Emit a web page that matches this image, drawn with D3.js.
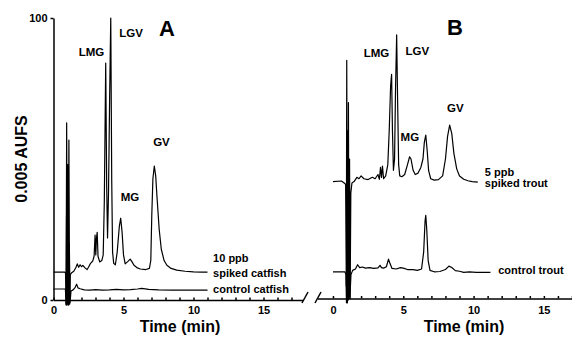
<!DOCTYPE html>
<html>
<head>
<meta charset="utf-8">
<title>Chromatograms</title>
<style>
  body { margin: 0; background: #fff; }
  svg { display: block; }
  text { font-family: "Liberation Sans", Arial, sans-serif; font-weight: bold; fill: #000; }
  .axis path, .axis line { stroke: #000; stroke-width: 1.5; }
  .axis text { font-size: 11px; }
  .trace { fill: none; stroke: #000; stroke-width: 1.2; stroke-linejoin: round; }
</style>
</head>
<body>
<svg width="572" height="337"></svg>
<script src="https://cdnjs.cloudflare.com/ajax/libs/d3/7.8.5/d3.min.js"></script>
<script>
// time (min), response (0-100 of 0.005 AUFS, traces offset)
var catfishSpiked = [
  [0,9.9],[0.8,9.9],[0.86,9.5],[0.9,-1.5],[0.94,62.8],[0.98,-1.5],[1.02,48],[1.06,-1.5],[1.1,56.7],
  [1.15,-1.5],[1.2,9],[1.3,9.7],[1.45,10.2],[1.6,11.5],[1.7,12.8],[1.8,11.6],[1.9,12.5],[2.0,11.8],
  [2.1,12.3],[2.25,11.4],[2.4,10.8],[2.5,11.6],[2.6,12.6],[2.7,13.3],[2.8,13.8],[2.9,15.5],[2.97,23],
  [3.02,16],[3.07,22],[3.12,24],[3.18,15.5],[3.3,13.5],[3.45,14],[3.55,16],[3.63,35],[3.73,84],
  [3.8,40],[3.86,22],[3.93,38],[4.01,72],[4.09,100],[4.16,42],[4.22,17],[4.3,13],[4.42,12.5],
  [4.55,17],[4.7,26],[4.8,29],[4.9,24],[5.0,16],[5.12,12.8],[5.3,13.6],[5.48,14.5],[5.6,13.6],
  [5.75,12.3],[5.95,11.5],[6.2,11],[6.6,10.8],[6.85,11.2],[6.95,14],[7.02,30],[7.1,43],[7.2,47.5],
  [7.3,44],[7.4,36],[7.55,25],[7.7,18],[7.9,14],[8.1,12.3],[8.4,11.2],[8.8,10.6],[9.4,10.2],
  [10,10],[10.6,9.9],[11,9.9]
];
var catfishControl = [
  [0,3.9],[0.85,3.9],[0.9,-1.8],[0.93,30],[0.97,-1.8],[1.0,3],[1.08,-1.8],[1.13,20],[1.18,-1],
  [1.25,3.2],[1.4,3.6],[1.55,4.5],[1.65,5.6],[1.75,4.3],[1.9,4.0],[2.2,3.6],[2.6,3.5],[3.0,3.7],
  [3.5,3.5],[4.0,3.6],[4.5,3.8],[5,3.6],[5.5,3.7],[6,3.9],[6.3,4.1],[6.8,3.8],[7.5,3.6],[8.5,3.5],
  [9.5,3.5],[11,3.5]
];
var troutSpiked = [
  [0,42],[0.6,42.2],[0.8,41.5],[0.9,41],[0.95,5],[0.98,85],[1.02,1],[1.05,60],[1.08,0.5],[1.1,70],
  [1.14,1],[1.18,50],[1.22,0.5],[1.27,38],[1.35,41.5],[1.5,42],[1.7,43.5],[1.85,43],[2.0,44],
  [2.2,43],[2.5,42.7],[2.8,43.5],[3.0,43],[3.2,44.5],[3.3,42.8],[3.38,47],[3.45,43.5],[3.52,47.5],
  [3.6,43],[3.75,44],[3.9,48],[4.0,60],[4.1,76],[4.17,80],[4.23,60],[4.3,46],[4.38,50],[4.45,75],
  [4.53,94],[4.6,70],[4.67,48],[4.75,44],[4.9,43.7],[5.1,44.5],[5.3,48],[5.45,50.8],[5.55,50],
  [5.7,46],[5.85,44.5],[6.05,45],[6.25,47],[6.4,50],[6.5,56],[6.6,58.5],[6.7,53],[6.8,46],
  [6.95,43],[7.2,42.5],[7.5,42.7],[7.8,44],[8.0,50],[8.15,58],[8.3,62],[8.45,59],[8.6,52],
  [8.8,46.5],[9.0,44],[9.3,42.8],[9.6,42.3],[9.9,42],[10.3,41.8]
];
var troutControl = [
  [0,10],[0.85,10],[0.92,9],[0.96,-1],[1.0,30],[1.03,-1],[1.07,40],[1.1,0],[1.15,28],[1.2,0.5],
  [1.28,9],[1.4,10.5],[1.6,11],[1.75,12.5],[1.9,11.5],[2.1,11.7],[2.3,11.3],[2.6,11.5],[2.9,11.2],
  [3.2,11.4],[3.35,12.3],[3.45,11.5],[3.6,11.3],[3.8,11.8],[3.95,14.5],[4.05,13],[4.2,11.2],
  [4.5,11.0],[4.8,11.5],[5.0,11.3],[5.3,10.8],[5.7,10.8],[6.0,10.5],[6.3,11],[6.45,17],[6.55,28],
  [6.6,30],[6.67,25],[6.77,14],[6.9,10.5],[7.2,10],[7.6,10.1],[8.0,10.8],[8.25,12],[8.45,11.5],
  [8.7,10.4],[9.0,10.2],[9.3,9.8],[9.7,10],[10.2,9.8],[11.2,9.8]
];
var xTicks = [0, 5, 10, 15];
var yTicks = [0, 100];

// peak labels [text, time, value]
var labelsA = [["LMG", 2.71, 88], ["LGV", 5.54, 94.7], ["MG", 5.46, 36.6], ["GV", 7.71, 56.1]];
var labelsB = [["LMG", 3.09, 87.6], ["LGV", 6.0, 88.3], ["MG", 5.47, 57.9], ["GV", 8.7, 68.1]];

var svg = d3.select("svg");

var xA = d3.scaleLinear().domain([0, 17.8]).range([53.5, 302.7]);
var xB = d3.scaleLinear().domain([-1.1, 17]).range([317.5, 572]);
var y = d3.scaleLinear().domain([0, 100]).range([300, 18]);
var axisYA = 300, axisYB = 298.5;

// x axes with minor ticks
function xAxis(x, yPos, pad) {
  svg.append("g").attr("class", "axis").attr("transform", "translate(0," + yPos + ")")
    .call(d3.axisBottom(x).tickValues(d3.range(0, 18)).tickSize(-2.5).tickFormat(""))
    .call(function(g) { g.select(".domain").remove(); });
  svg.append("g").attr("class", "axis").attr("transform", "translate(0," + yPos + ")")
    .call(d3.axisBottom(x).tickValues(xTicks).tickSizeInner(0).tickSizeOuter(0).tickPadding(pad));
}
xAxis(xA, axisYA, 6);
xAxis(xB, axisYB, 7.5);

svg.append("g").attr("class", "axis").attr("transform", "translate(53.5,0)")
  .call(d3.axisLeft(y).tickValues(yTicks).tickSizeInner(3).tickSizeOuter(0).tickPadding(3));

// axis break marks
svg.append("g").selectAll("line").data([305, 318]).join("line")
  .attr("x1", function(d) { return d - 3; }).attr("y1", 303)
  .attr("x2", function(d) { return d + 3; }).attr("y2", 292)
  .attr("stroke", "#000").attr("stroke-width", 1.5);

var lineA = d3.line().x(function(d) { return xA(d[0]); }).y(function(d) { return y(d[1]); });
var lineB = d3.line().x(function(d) { return xB(d[0]); }).y(function(d) { return y(d[1]); });

[catfishSpiked, catfishControl].forEach(function(s) {
  svg.append("path").attr("class", "trace").attr("d", lineA(s));
});
[troutSpiked, troutControl].forEach(function(s) {
  svg.append("path").attr("class", "trace").attr("d", lineB(s));
});

function peakLabels(data, x) {
  svg.append("g").selectAll("text").data(data).join("text")
    .attr("x", function(d) { return x(d[1]); })
    .attr("y", function(d) { return y(d[2]); })
    .attr("text-anchor", "middle").attr("dy", "0.35em")
    .style("font-size", "11.5px")
    .text(function(d) { return d[0]; });
}
peakLabels(labelsA, xA);
peakLabels(labelsB, xB);

// panel letters
svg.append("text").attr("x", xA(8.1)).attr("y", 36).attr("text-anchor", "middle")
  .style("font-size", "22px").text("A");
svg.append("text").attr("x", xB(8.67)).attr("y", 35).attr("text-anchor", "middle")
  .style("font-size", "22px").text("B");

// trace names
var names = [
  [xA(11.4), 262, "10 ppb"], [xA(11.4), 276.5, "spiked catfish"], [xA(11.4), 293, "control catfish"],
  [xB(10.8), 175.5, "5 ppb"], [xB(10.8), 186.5, "spiked trout"], [xB(11.75), 274, "control trout"]
];
svg.append("g").selectAll("text").data(names).join("text")
  .attr("x", function(d) { return d[0]; }).attr("y", function(d) { return d[1]; })
  .style("font-size", "11px").text(function(d) { return d[2]; });

// axis titles
svg.append("text").attr("x", 180).attr("y", 332).attr("text-anchor", "middle")
  .style("font-size", "16px").text("Time (min)");
svg.append("text").attr("x", 464).attr("y", 332).attr("text-anchor", "middle")
  .style("font-size", "16px").text("Time (min)");
svg.append("text").attr("transform", "translate(27,159) rotate(-90)").attr("text-anchor", "middle")
  .style("font-size", "16px").text("0.005 AUFS");
</script>
</body>
</html>
